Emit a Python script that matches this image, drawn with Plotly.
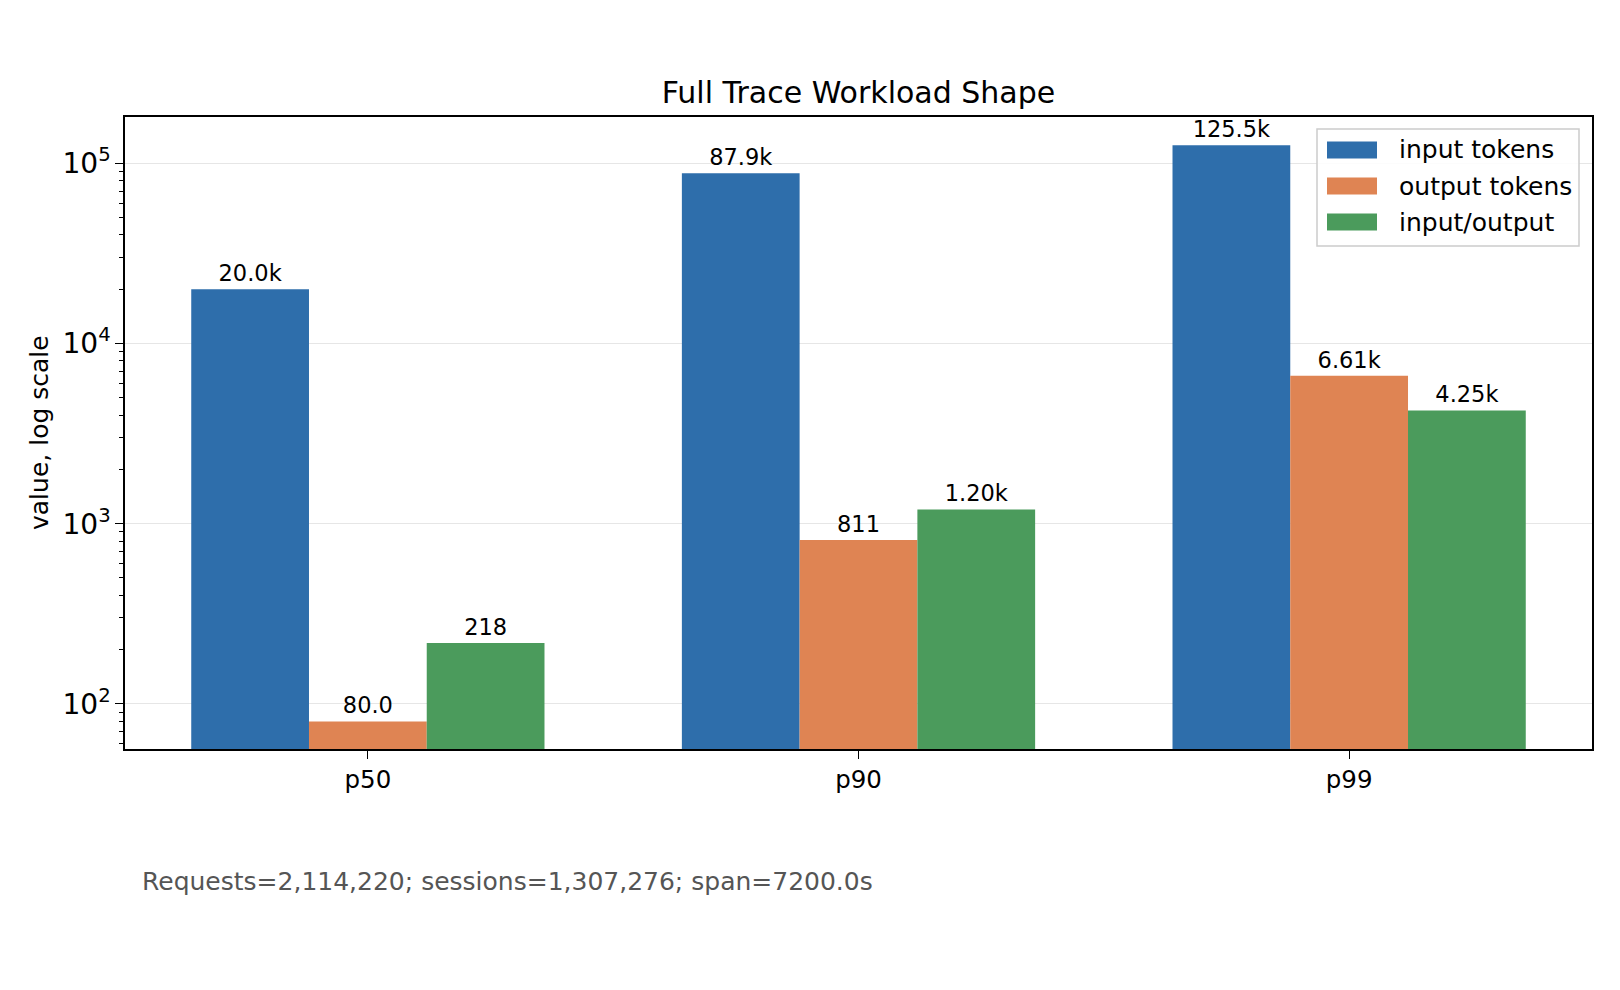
import plotly.graph_objects as go

categories = ["p50", "p90", "p99"]
input_tokens = [20000, 87900, 125500]
output_tokens = [80, 811, 6610]
input_output = [218, 1200, 4250]
input_labels = ["20.0k", "87.9k", "125.5k"]
output_labels = ["80.0", "811", "6.61k"]
ratio_labels = ["218", "1.20k", "4.25k"]
series_names = ["input tokens", "output tokens", "input/output"]
colors = ["#2e6eab", "#df8453", "#4b9b5c"]
title_text = "Full Trace Workload Shape"
footnote = "Requests=2,114,220; sessions=1,307,276; span=7200.0s"
ylabel = "value, log scale"

FONT = "DejaVu Sans"
W, H = 1620, 990
L, R, T, B = 125, 28, 117, 241
pw, ph = W - L - R, H - T - B


def px_x(x):
    return (x - L) / pw


def px_y(y):
    return (T + ph - y) / ph


fig = go.Figure()
for name, vals, labels, col in zip(series_names,
                                   [input_tokens, output_tokens, input_output],
                                   [input_labels, output_labels, ratio_labels],
                                   colors):
    fig.add_trace(go.Bar(
        x=categories, y=vals, name=name, marker=dict(color=col, line=dict(width=0)),
        text=labels, textposition="outside", cliponaxis=False,
        textfont=dict(family=FONT, size=22.5, color="black"),
        constraintext="none", hoverinfo="skip", showlegend=False,
    ))

# legend drawn as box + patches + text labels
shapes = [dict(type="rect", xref="paper", yref="paper",
               x0=px_x(1317), x1=px_x(1579), y0=px_y(246), y1=px_y(129),
               line=dict(color="#cccccc", width=1.5), fillcolor="rgba(255,255,255,0.85)",
               layer="above")]
annotations = []
entry_centers = [150, 186, 222]
for name, col, yc in zip(series_names, colors, entry_centers):
    shapes.append(dict(type="rect", xref="paper", yref="paper",
                       x0=px_x(1327), x1=px_x(1377), y0=px_y(yc + 8.5), y1=px_y(yc - 8.5),
                       line=dict(width=0), fillcolor=col, layer="above"))
    annotations.append(dict(text=name, xref="paper", yref="paper", x=px_x(1397), y=px_y(yc),
                            xanchor="left", yanchor="middle", showarrow=False,
                            font=dict(family=FONT, size=25, color="black")))

annotations += [
    dict(text=ylabel, textangle=-90, xref="paper", yref="paper",
         x=px_x(39), y=0.5, xanchor="center", yanchor="middle",
         showarrow=False, font=dict(family=FONT, size=25, color="black")),
    dict(text=footnote, xref="paper", yref="paper",
         x=px_x(140), y=px_y(881), xanchor="left", yanchor="middle",
         showarrow=False, font=dict(family=FONT, size=25, color="#555555")),
]

fig.update_layout(
    width=W, height=H,
    margin=dict(l=L, r=R, t=T, b=B),
    paper_bgcolor="white", plot_bgcolor="white",
    barmode="group", bargap=0.28, bargroupgap=0,
    font=dict(family=FONT, size=24, color="black"),
    title=dict(text=title_text, x=(L + pw / 2) / W, xanchor="center",
               y=1 - 92 / H, yanchor="middle", yref="container",
               font=dict(family=FONT, size=30, color="black")),
    showlegend=False,
    xaxis=dict(type="category", range=[-0.495, 2.495], showline=True, linecolor="black",
               linewidth=1.5, mirror=True, ticks="outside", ticklen=8, tickwidth=1.3,
               tickcolor="black", showgrid=False, tickfont=dict(size=24.5, family=FONT)),
    yaxis=dict(type="log", range=[1.75, 5.256], dtick=1, exponentformat="power",
               showline=True, linecolor="black", linewidth=1.5, mirror=True,
               ticks="outside", ticklen=8, tickwidth=1.3, tickcolor="black",
               showgrid=True, gridcolor="#e6e6e6", gridwidth=1.2,
               tickfont=dict(size=22.5, family=FONT), zeroline=False,
               minor=dict(ticks="outside", ticklen=4, tickwidth=1, tickcolor="black",
                          showgrid=False)),
    shapes=shapes,
    annotations=annotations,
)

fig.write_html("out.html")
